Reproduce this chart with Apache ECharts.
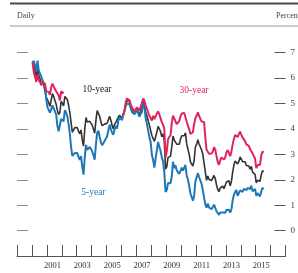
<!DOCTYPE html>
<html>
<head>
<meta charset="utf-8">
<script src="https://cdn.jsdelivr.net/npm/echarts@6/dist/echarts.min.js"></script>
<style>
  html, body { margin: 0; padding: 0; background: #fff; }
  #chart { width: 298px; height: 273px; }
</style>
</head>
<body>
<div id="chart"></div>
<script>
// monthly readings, Jan 2000 .. Jul 2015
const startYear = 2000
const fiveYear = [
  6.58, 6.68, 6.50, 6.26, 6.69, 6.30, 6.18, 6.06, 5.93, 5.78, 5.70, 5.17,
  4.86, 4.89, 4.64, 4.76, 4.93, 4.81, 4.76, 4.57, 4.12, 3.91, 3.97, 4.39,
  4.34, 4.30, 4.74, 4.65, 4.49, 4.19, 3.81, 3.29, 2.94, 2.95, 3.05, 3.03,
  3.05, 2.90, 2.78, 2.93, 2.52, 2.20, 2.87, 3.37, 3.18, 3.19, 3.29, 3.27,
  3.12, 3.07, 2.79, 3.39, 3.85, 3.93, 3.69, 3.47, 3.36, 3.35, 3.53, 3.60,
  3.71, 3.77, 4.17, 4.00, 3.85, 3.77, 3.98, 4.12, 4.01, 4.33, 4.45, 4.39,
  4.35, 4.57, 4.72, 4.90, 5.00, 5.07, 4.97, 4.82, 4.67, 4.69, 4.58, 4.53,
  4.75, 4.71, 4.48, 4.59, 4.67, 5.03, 4.88, 4.43, 4.20, 4.20, 3.67, 3.49,
  2.98, 2.78, 2.48, 2.84, 3.15, 3.49, 3.30, 3.14, 2.88, 2.73, 2.29, 1.52,
  1.60, 1.87, 1.82, 1.86, 2.13, 2.71, 2.46, 2.57, 2.37, 2.33, 2.23, 2.34,
  2.48, 2.36, 2.43, 2.58, 2.18, 2.00, 1.76, 1.47, 1.41, 1.18, 1.35, 1.93,
  1.99, 2.26, 2.11, 2.17, 1.84, 1.58, 1.54, 1.02, 0.90, 1.06, 0.91, 0.89,
  0.84, 0.83, 1.02, 0.89, 0.76, 0.71, 0.62, 0.71, 0.67, 0.71, 0.67, 0.70,
  0.81, 0.85, 0.82, 0.71, 0.84, 1.20, 1.40, 1.52, 1.60, 1.37, 1.37, 1.58,
  1.65, 1.52, 1.64, 1.70, 1.59, 1.68, 1.70, 1.63, 1.77, 1.55, 1.62, 1.64,
  1.37, 1.47, 1.52, 1.35, 1.54, 1.68, 1.63
]
const tenYear = [
  6.66, 6.52, 6.26, 5.99, 6.44, 6.10, 6.05, 5.83, 5.80, 5.74, 5.72, 5.24,
  5.16, 5.10, 4.89, 5.14, 5.39, 5.28, 5.24, 4.97, 4.73, 4.57, 4.65, 5.09,
  5.04, 4.91, 5.28, 5.21, 5.16, 4.93, 4.65, 4.26, 3.87, 3.94, 4.05, 4.03,
  4.05, 3.90, 3.81, 3.96, 3.57, 3.33, 3.98, 4.45, 4.27, 4.29, 4.30, 4.27,
  4.15, 4.08, 3.83, 4.35, 4.72, 4.73, 4.50, 4.28, 4.13, 4.10, 4.19, 4.23,
  4.22, 4.17, 4.50, 4.34, 4.14, 4.00, 4.18, 4.26, 4.20, 4.46, 4.54, 4.47,
  4.42, 4.57, 4.72, 4.99, 5.11, 5.11, 5.09, 4.88, 4.72, 4.73, 4.60, 4.56,
  4.76, 4.72, 4.56, 4.69, 4.75, 5.10, 5.00, 4.67, 4.52, 4.53, 4.15, 4.10,
  3.74, 3.74, 3.51, 3.68, 3.88, 4.10, 4.01, 3.89, 3.69, 3.81, 3.53, 2.42,
  2.52, 2.87, 2.82, 2.93, 3.29, 3.72, 3.56, 3.59, 3.40, 3.39, 3.40, 3.59,
  3.73, 3.69, 3.73, 3.85, 3.42, 3.20, 3.01, 2.70, 2.65, 2.54, 2.76, 3.29,
  3.39, 3.58, 3.41, 3.46, 3.17, 3.00, 3.00, 2.30, 1.98, 2.15, 2.01, 1.98,
  1.97, 1.97, 2.17, 2.05, 1.80, 1.62, 1.53, 1.68, 1.72, 1.75, 1.65, 1.72,
  1.91, 1.98, 1.96, 1.76, 1.93, 2.30, 2.58, 2.74, 2.81, 2.62, 2.72, 2.90,
  2.86, 2.71, 2.72, 2.71, 2.56, 2.60, 2.54, 2.42, 2.53, 2.30, 2.33, 2.21,
  1.88, 1.98, 2.04, 1.94, 2.20, 2.36, 2.32
]
// no 30-year readings from Mar 2002 to Jan 2006
const thirtyYear = [
  6.63, 6.23, 6.05, 5.85, 6.15, 5.93, 5.85, 5.72, 5.83, 5.80, 5.78, 5.49,
  5.54, 5.45, 5.34, 5.65, 5.78, 5.67, 5.61, 5.48, 5.48, 5.32, 5.12, 5.48,
  5.45, 5.40, null, null, null, null, null, null, null, null, null, null,
  null, null, null, null, null, null, null, null, null, null, null, null,
  null, null, null, null, null, null, null, null, null, null, null, null,
  null, null, null, null, null, null, null, null, null, null, null, null,
  null, 4.54, 4.73, 5.06, 5.20, 5.15, 5.13, 4.97, 4.85, 4.85, 4.69, 4.68,
  4.85, 4.82, 4.72, 4.87, 4.90, 5.20, 5.11, 4.93, 4.79, 4.77, 4.52, 4.53,
  4.33, 4.52, 4.39, 4.44, 4.60, 4.69, 4.57, 4.50, 4.27, 4.17, 4.00, 2.87,
  3.13, 3.59, 3.64, 3.76, 4.23, 4.52, 4.41, 4.37, 4.19, 4.19, 4.31, 4.49,
  4.60, 4.62, 4.64, 4.69, 4.29, 4.13, 3.99, 3.80, 3.77, 3.87, 4.19, 4.42,
  4.52, 4.65, 4.51, 4.50, 4.29, 4.23, 4.27, 3.65, 3.18, 3.13, 3.02, 2.98,
  3.03, 3.11, 3.28, 3.18, 2.93, 2.70, 2.59, 2.77, 2.88, 2.90, 2.80, 2.88,
  3.08, 3.17, 3.16, 2.93, 3.11, 3.40, 3.61, 3.76, 3.79, 3.68, 3.80, 3.89,
  3.77, 3.66, 3.62, 3.52, 3.39, 3.42, 3.33, 3.20, 3.26, 3.04, 3.04, 2.83,
  2.46, 2.57, 2.63, 2.59, 2.96, 3.11, 3.07
]
const yearTicks = [1999, 2000, 2001, 2002, 2003, 2004, 2005, 2006, 2007, 2008,
  2009, 2010, 2011, 2012, 2013, 2014, 2015, 2016, 2017]
const yearLabels = [2001, 2003, 2005, 2007, 2009, 2011, 2013, 2015]
const percentTicks = [0, 1, 2, 3, 4, 5, 6, 7]

const serif = '"Liberation Serif", "DejaVu Serif", serif'
const red = '#e0245c'
const blue = '#1f78b6'
const dark = '#333333'

function toPairs(values) {
  return values.map((v, i) => [startYear + (i + 0.5) / 12, v == null ? '-' : v])
}

function yAxis(position, showLabels) {
  return {
    type: 'value',
    position: position,
    min: -1,
    max: 8,
    interval: 1,
    axisLine: { show: false },
    axisTick: {
      show: true,
      inside: true,
      length: 11,
      customValues: percentTicks,
      lineStyle: { color: position === 'left' ? '#8a8a8a' : '#555', width: 1 }
    },
    axisLabel: {
      show: showLabels,
      customValues: percentTicks,
      margin: 5,
      fontFamily: serif,
      fontSize: 9,
      color: '#444'
    },
    splitLine: { show: false }
  }
}

const chart = echarts.init(document.getElementById('chart'), null, { renderer: 'canvas' })
chart.setOption({
  animation: false,
  backgroundColor: '#fff',
  grid: { left: 17, right: 10, top: 27.3, bottom: 17, containLabel: false },
  xAxis: {
    type: 'value',
    min: 1999,
    max: 2017,
    interval: 1,
    axisLine: { onZero: false, lineStyle: { color: '#555', width: 1 } },
    axisTick: {
      inside: true,
      length: 11,
      customValues: yearTicks,
      lineStyle: { color: '#555', width: 1 }
    },
    axisLabel: {
      customValues: yearLabels.map(y => y + 0.38),
      formatter: v => String(Math.floor(v)),
      margin: 5,
      fontFamily: serif,
      fontSize: 8.5,
      color: '#333'
    },
    splitLine: { show: false }
  },
  yAxis: [yAxis('left', false), yAxis('right', true)],
  series: [
    {
      name: '10-year', type: 'line', data: toPairs(tenYear),
      showSymbol: false, lineStyle: { color: dark, width: 1.6 }, z: 2
    },
    {
      name: '5-year', type: 'line', data: toPairs(fiveYear),
      showSymbol: false, lineStyle: { color: blue, width: 2 }, z: 3
    },
    {
      name: '30-year', type: 'line', data: toPairs(thirtyYear), connectNulls: false,
      showSymbol: false, lineStyle: { color: red, width: 2 }, z: 4
    }
  ],
  graphic: [
    { type: 'rect', shape: { x: 10, y: 2.5, width: 290, height: 2 }, style: { fill: '#4a4a4a' } },
    { type: 'rect', shape: { x: 10, y: 25.5, width: 290, height: 1 }, style: { fill: '#9a9a9a' } },
    { type: 'text', left: 17, top: 12, style: { text: 'Daily', font: '8px ' + serif, fill: '#444' } },
    { type: 'text', left: 276, top: 12, style: { text: 'Percent', font: '8px ' + serif, fill: '#444' } },
    { type: 'text', x: 97, y: 89, style: { text: '10-year', font: '9.5px ' + serif, fill: '#222', align: 'center', verticalAlign: 'middle' } },
    { type: 'text', x: 194, y: 90.5, style: { text: '30-year', font: '9.5px ' + serif, fill: red, align: 'center', verticalAlign: 'middle' } },
    { type: 'text', x: 93.5, y: 192, style: { text: '5-year', font: '9.5px ' + serif, fill: blue, align: 'center', verticalAlign: 'middle' } }
  ]
})
</script>
</body>
</html>
